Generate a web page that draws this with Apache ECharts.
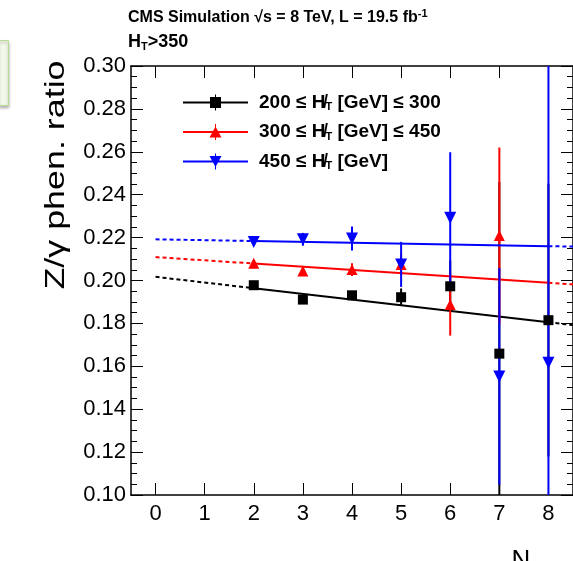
<!DOCTYPE html>
<html>
<head>
<meta charset="utf-8">
<script src="https://cdn.jsdelivr.net/npm/echarts@6/dist/echarts.min.js"></script>
<style>
html,body{margin:0;padding:0;background:#fff;}
#chart{width:573px;height:561px;}
</style>
</head>
<body>
<div id="chart"></div>
<script>
// ---- data ----
const nJets = [2, 3, 4, 5, 6, 7, 8];
const xTicks = [0, 1, 2, 3, 4, 5, 6, 7, 8];

const blackVal = [0.1978, 0.1911, 0.1931, 0.1922, 0.1973, 0.1659, 0.1815];
const blackErr = [0.0015, 0.0015, 0.0015, 0.0041, 0.012, 0.08, 0.0636];
const redVal   = [0.2081, 0.2044, 0.2051, 0.2075, 0.1888, 0.2210, null];
const redErr   = [0.0015, 0.0015, 0.0030, 0.0050, 0.0145, 0.041, null];
const blueVal  = [0.2179, 0.2192, 0.2196, 0.2075, 0.2293, 0.1553, 0.1617];
const blueErr  = [0.0015, 0.0030, 0.0056, 0.0105, 0.0305, 0.0505, 0.25];

// fit lines: points [N, value] at start of dashed, start of solid, end of solid, end of dashed
const blackFit = [[0, 0.2017], [2, 0.1964], [8, 0.1805], [8.5, 0.1792]];
const redFit   = [[0, 0.2109], [2, 0.2079], [8, 0.1989], [8.5, 0.1982]];
const blueFit  = [[0, 0.2192], [2, 0.2184], [8, 0.2160], [8.5, 0.2158]];

const legendNames = ['lowHT', 'midHT', 'highHT'];
const legendTexts = [
  '{p|200 ≤ }{b|H̸}{s|T}{b| [GeV] ≤ 300}',
  '{p|300 ≤ }{b|H̸}{s|T}{b| [GeV] ≤ 450}',
  '{p|450 ≤ }{b|H̸}{s|T}{b| [GeV]}'
];

const Y_MIN = 0.10, Y_MAX = 0.30, Y_STEP = 0.02;
const X_MIN = -0.5, X_MAX = 8.5;

// ---- chart ----
const chart = echarts.init(document.getElementById('chart'), null, {renderer: 'canvas'});
const FONT = '"Liberation Sans", Arial, Helvetica, sans-serif';

function pairs(vals, errs) {
  const out = [];
  nJets.forEach((n, i) => { if (vals[i] != null) out.push([n, vals[i], errs[i]]); });
  return out;
}

function errSeries(name, vals, errs, color, z) {
  return {
    type: 'custom', name: name, silent: true, z: z,
    data: pairs(vals, errs),
    renderItem: function (params, api) {
      const x = api.value(0), v = api.value(1), e = api.value(2);
      const lo = Math.max(v - e, Y_MIN), hi = Math.min(v + e, Y_MAX);
      const p1 = api.coord([x, lo]), p2 = api.coord([x, hi]);
      return {type: 'line', shape: {x1: p1[0], y1: p1[1], x2: p2[0], y2: p2[1]},
              style: {stroke: color, lineWidth: 2}};
    }
  };
}
function fitSeries(name, fit, color, z) {
  const base = {type: 'line', silent: true, showSymbol: false, symbol: 'none', animation: false, z: z};
  return [
    Object.assign({}, base, {name: name + 'd1', data: fit.slice(0, 2), lineStyle: {color: color, width: 2, type: [4, 3]}}),
    Object.assign({}, base, {name: name + 's', data: fit.slice(1, 3), lineStyle: {color: color, width: 2}}),
    Object.assign({}, base, {name: name + 'd2', data: fit.slice(2, 4), lineStyle: {color: color, width: 2, type: [4, 3]}})
  ];
}
function markerSeries(name, vals, symbol, size, rotate, color) {
  return {
    type: 'scatter', name: name, silent: true, z: 10,
    data: pairs(vals, vals.map(() => 0)).map(d => [d[0], d[1]]),
    symbol: symbol, symbolSize: size, symbolRotate: rotate,
    itemStyle: {color: color, opacity: 1}
  };
}

const iconLine = 'M0,7 L65,7 L65,9 L0,9 Z M32,0 L33,0 L33,16 L32,16 Z ';
const icons = [
  'path://' + iconLine + 'M27,2.5 L38,2.5 L38,13.5 L27,13.5 Z',
  'path://' + iconLine + 'M26.5,13.5 L32.5,2.5 L38.5,13.5 Z',
  'path://' + iconLine + 'M26.5,2.5 L38.5,2.5 L32.5,13.5 Z'
];

const axisCommonX = {
  type: 'value', min: X_MIN, max: X_MAX,
  axisLine: {show: true, onZero: false, lineStyle: {color: '#000', width: 1.5}},
  axisTick: {show: true, inside: true, length: 12, customValues: xTicks, lineStyle: {color: '#000', width: 1}},
  splitLine: {show: false}
};
const axisCommonY = {
  type: 'value', min: Y_MIN, max: Y_MAX, interval: Y_STEP,
  axisLine: {show: true, onZero: false, lineStyle: {color: '#000', width: 1.5}},
  axisTick: {show: true, inside: true, length: 12, lineStyle: {color: '#000', width: 1}},
  minorTick: {show: true, splitNumber: 4, length: 6, lineStyle: {color: '#000', width: 1}},
  splitLine: {show: false}, minorSplitLine: {show: false}
};

const option = {
  animation: false,
  backgroundColor: '#ffffff',
  grid: {left: 131, top: 66, width: 442, height: 429, containLabel: false},
  xAxis: [
    Object.assign({}, axisCommonX, {position: 'bottom',
      axisLabel: {show: true, customValues: xTicks, fontSize: 22, color: '#000', margin: 8, fontFamily: FONT}}),
    Object.assign({}, axisCommonX, {position: 'top', axisLabel: {show: false}})
  ],
  yAxis: [
    Object.assign({}, axisCommonY, {position: 'left',
      axisLabel: {show: true, fontSize: 22, color: '#000', margin: 5, fontFamily: FONT,
        formatter: v => v.toFixed(2)}}),
    Object.assign({}, axisCommonY, {position: 'right', axisLabel: {show: false}})
  ],
  legend: {
    orient: 'vertical', left: 178, top: 88,
    itemWidth: 65, itemHeight: 16, itemGap: 10,
    selectedMode: false,
    data: legendNames.map((n, i) => ({name: n, icon: icons[i]})),
    formatter: name => legendTexts[legendNames.indexOf(name)],
    textStyle: {
      fontFamily: FONT, fontWeight: 'bold', fontSize: 19, color: '#000',
      rich: {
        p: {fontFamily: FONT, fontWeight: 'bold', fontSize: 19, color: '#000', padding: [0, 0, 0, 6], lineHeight: 20},
        b: {fontFamily: FONT, fontWeight: 'bold', fontSize: 19, color: '#000', lineHeight: 20},
        s: {fontFamily: FONT, fontWeight: 'bold', fontSize: 11, color: '#000', lineHeight: 20, verticalAlign: 'bottom', padding: [7, 0, 0, 0]}
      }
    }
  },
  graphic: [
    {type: 'rect', left: -2, top: 40, shape: {width: 10, height: 65},
     style: {fill: '#f3f9ea', stroke: '#b9dc95', lineWidth: 1, shadowBlur: 3, shadowColor: 'rgba(0,0,0,0.3)', shadowOffsetY: 2}},
    {type: 'text', left: 128, top: 8,
     style: {text: '{t|CMS Simulation √s = 8 TeV, L = 19.5 fb}{u|-1}',
       rich: {t: {fontFamily: FONT, fontWeight: 'bold', fontSize: 16, fill: '#000', lineHeight: 20},
              u: {fontFamily: FONT, fontWeight: 'bold', fontSize: 11, fill: '#000', lineHeight: 20, verticalAlign: 'top', padding: [0, 0, 7, 0]}}}},
    {type: 'text', left: 128, top: 33,
     style: {text: '{t|H}{s|T}{t|>350}',
       rich: {t: {fontFamily: FONT, fontWeight: 'bold', fontSize: 18, fill: '#000', lineHeight: 20},
              s: {fontFamily: FONT, fontWeight: 'bold', fontSize: 11, fill: '#000', lineHeight: 20, verticalAlign: 'bottom', padding: [7, 0, 0, 0]}}}},
    {type: 'text', x: 56, y: 175, rotation: Math.PI / 2, scaleX: 1.28,
     style: {text: 'Z/γ phen. ratio', fontFamily: FONT, fontSize: 28, fill: '#000', align: 'center', verticalAlign: 'middle'}},
    {type: 'text', x: 521, y: 548,
     style: {text: 'N', fontFamily: FONT, fontSize: 26, fill: '#000', align: 'center', verticalAlign: 'top'}}
  ],
  series: [].concat(
    fitSeries('bf', blackFit, '#000000', 2),
    [errSeries('be', blackVal, blackErr, '#000000', 2)],
    fitSeries('rf', redFit, '#ff0000', 3),
    [errSeries('re', redVal, redErr, '#ff0000', 3)],
    fitSeries('uf', blueFit, '#0000ff', 4),
    [errSeries('ue', blueVal, blueErr, '#0000ff', 4)],
    [markerSeries('lowHT', blackVal, 'rect', 10, 0, '#000000'),
     markerSeries('midHT', redVal, 'triangle', 11, 0, '#ff0000'),
     markerSeries('highHT', blueVal, 'triangle', 12, 180, '#0000ff')]
  )
};
chart.setOption(option);
</script>
</body>
</html>
